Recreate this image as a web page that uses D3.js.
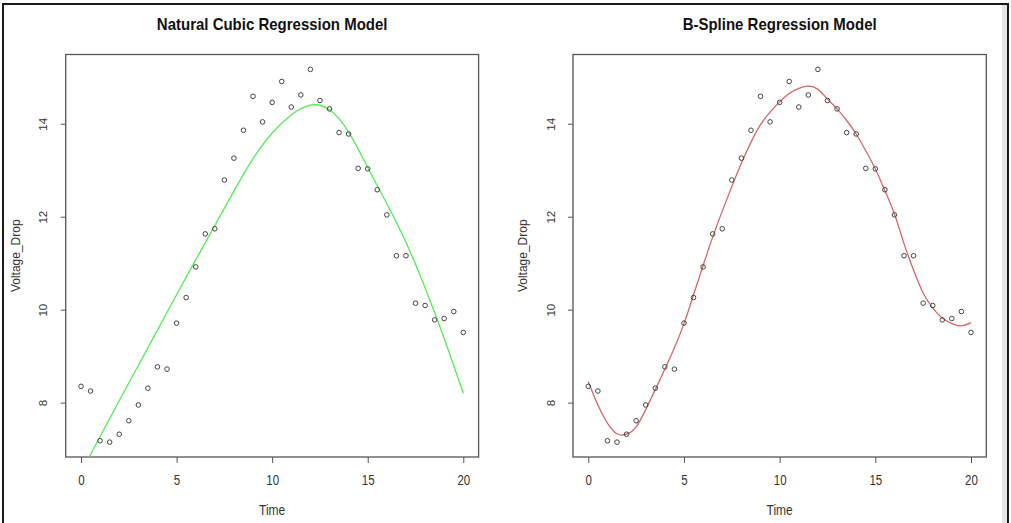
<!DOCTYPE html>
<html>
<head>
<meta charset="utf-8">
<script src="https://cdn.jsdelivr.net/npm/d3@7"></script>
<style>
  body { margin: 0; background: #fff; }
  svg { display: block; font-family: "Liberation Sans", Arial, sans-serif; }
</style>
</head>
<body>
<svg id="chart" width="1011" height="523"></svg>
<script>
// Observed voltage drop over time
const time = [0, 0.5, 1, 1.5, 2, 2.5, 3, 3.5, 4, 4.5, 5, 5.5, 6, 6.5, 7, 7.5, 8, 8.5, 9, 9.5,
  10, 10.5, 11, 11.5, 12, 12.5, 13, 13.5, 14, 14.5, 15, 15.5, 16, 16.5, 17, 17.5, 18, 18.5, 19, 19.5, 20];
const voltage = [8.35, 8.25, 7.18, 7.15, 7.32, 7.61, 7.95, 8.31, 8.77, 8.72, 9.71, 10.26, 10.92, 11.63,
  11.74, 12.79, 13.26, 13.86, 14.59, 14.04, 14.46, 14.91, 14.36, 14.62, 15.17, 14.50, 14.32, 13.81,
  13.78, 13.04, 13.03, 12.58, 12.04, 11.16, 11.16, 10.14, 10.09, 9.78, 9.81, 9.96, 9.51];

// Natural cubic spline fitted values
const nsTime = [0, 1, 2, 3, 4, 5, 6, 7, 8, 9, 10, 11, 12, 13, 14, 15, 16, 17, 18, 19, 20];
const nsFit = [6.50, 7.27, 8.04, 8.80, 9.56, 10.32, 11.07, 11.81, 12.55, 13.25, 13.80, 14.19, 14.40,
  14.30, 13.82, 13.06, 12.28, 11.45, 10.47, 9.38, 8.20];

// B-spline fitted values
const bsTime = [0, 0.5, 1, 1.5, 2, 2.5, 3, 3.5, 4, 4.5, 5, 5.5, 6, 6.5, 7, 7.5, 8, 8.5, 9, 9.5,
  10, 10.5, 11, 11.5, 12, 12.5, 13, 13.5, 14, 14.5, 15, 15.5, 16, 16.5, 17, 17.5, 18, 18.5, 19, 19.5, 20];
const bsFit = [8.45, 7.95, 7.56, 7.33, 7.32, 7.48, 7.85, 8.28, 8.72, 9.18, 9.70, 10.32, 10.95, 11.56,
  12.12, 12.65, 13.15, 13.60, 13.98, 14.25, 14.47, 14.65, 14.76, 14.81, 14.74, 14.53, 14.32, 14.07,
  13.78, 13.42, 13.03, 12.56, 12.06, 11.42, 10.85, 10.36, 10.04, 9.82, 9.70, 9.65, 9.72];

const xTicks = [0, 5, 10, 15, 20];
const yTicks = [8, 10, 12, 14];
const xLabel = "Time";
const yLabel = "Voltage_Drop";

const panels = [
  { title: "Natural Cubic Regression Model", left: 65.7, right: 478.6, fitT: nsTime, fitV: nsFit, color: "#55ea55" },
  { title: "B-Spline Regression Model", left: 573.0, right: 986.3, fitT: bsTime, fitV: bsFit, color: "#d26868" }
];
const plotTop = 54.5, plotBottom = 457;
const xDomain = [-0.8, 20.8];
const yDomain = [6.83, 15.49];

const svg = d3.select("#chart");

// outer frame
svg.append("rect").attr("x", 1002).attr("y", 4).attr("width", 5).attr("height", 530).attr("fill", "#e4e4e4");
svg.append("rect").attr("x", 3).attr("y", 4).attr("width", 1005).attr("height", 530)
  .attr("fill", "none").attr("stroke", "#1a1a1a").attr("stroke-width", 2);

panels.forEach((p, i) => {
  const x = d3.scaleLinear().domain(xDomain).range([p.left, p.right]);
  const y = d3.scaleLinear().domain(yDomain).range([plotBottom, plotTop]);
  const g = svg.append("g");
  const cx = (p.left + p.right) / 2;

  const clipId = "plotclip" + i;
  svg.append("clipPath").attr("id", clipId).append("rect")
    .attr("x", p.left).attr("y", plotTop)
    .attr("width", p.right - p.left).attr("height", plotBottom - plotTop);

  // x axis
  const xa = g.append("g").attr("transform", `translate(0,${plotBottom})`)
    .call(d3.axisBottom(x).tickValues(xTicks).tickSize(6).tickFormat(d3.format("d")));
  xa.select(".domain").remove();
  xa.selectAll(".tick line").attr("stroke", "#555");
  xa.selectAll(".tick text").attr("y", null).attr("dy", null)
    .attr("transform", "translate(0,28) scale(1,1.2)")
    .attr("font-size", 11.5).attr("fill", "#333").attr("font-family", null);

  // y axis
  const ya = g.append("g").attr("transform", `translate(${p.left},0)`)
    .call(d3.axisLeft(y).tickValues(yTicks).tickSize(5).tickFormat(d3.format("d")));
  ya.select(".domain").remove();
  ya.selectAll(".tick line").attr("stroke", "#555");
  ya.selectAll(".tick text").attr("x", null).attr("dy", null)
    .attr("transform", "translate(-18.5,0) rotate(-90)")
    .attr("text-anchor", "middle")
    .attr("font-size", 11.5).attr("fill", "#333").attr("font-family", null);

  // plot box
  g.append("rect").attr("x", p.left).attr("y", plotTop)
    .attr("width", p.right - p.left).attr("height", plotBottom - plotTop)
    .attr("fill", "none").attr("stroke", "#555").attr("stroke-width", 1.3);

  // fitted curve
  const line = d3.line().x(d => x(d[0])).y(d => y(d[1])).curve(d3.curveNatural);
  g.append("path").datum(p.fitT.map((t, k) => [t, p.fitV[k]]))
    .attr("clip-path", `url(#${clipId})`)
    .attr("d", line).attr("fill", "none").attr("stroke", p.color).attr("stroke-width", 1.3);

  // observations
  g.selectAll("circle.obs").data(time.map((t, k) => [t, voltage[k]])).enter()
    .append("circle").attr("class", "obs")
    .attr("cx", d => x(d[0])).attr("cy", d => y(d[1])).attr("r", 2.3)
    .attr("fill", "none").attr("stroke", "#444").attr("stroke-width", 1);

  // titles and labels
  g.append("text").attr("text-anchor", "middle")
    .attr("transform", `translate(${cx},30) scale(1,1.1)`)
    .attr("font-size", 15).attr("font-weight", "bold").attr("fill", "#111").text(p.title);
  g.append("text").attr("text-anchor", "middle")
    .attr("transform", `translate(${cx},515) scale(1,1.2)`)
    .attr("font-size", 12).attr("fill", "#333").text(xLabel);
  g.append("text").attr("text-anchor", "middle")
    .attr("transform", `translate(${p.left - 46},${(plotTop + plotBottom) / 2}) rotate(-90)`)
    .attr("font-size", 12).attr("fill", "#333").text(yLabel);
});
</script>
</body>
</html>
